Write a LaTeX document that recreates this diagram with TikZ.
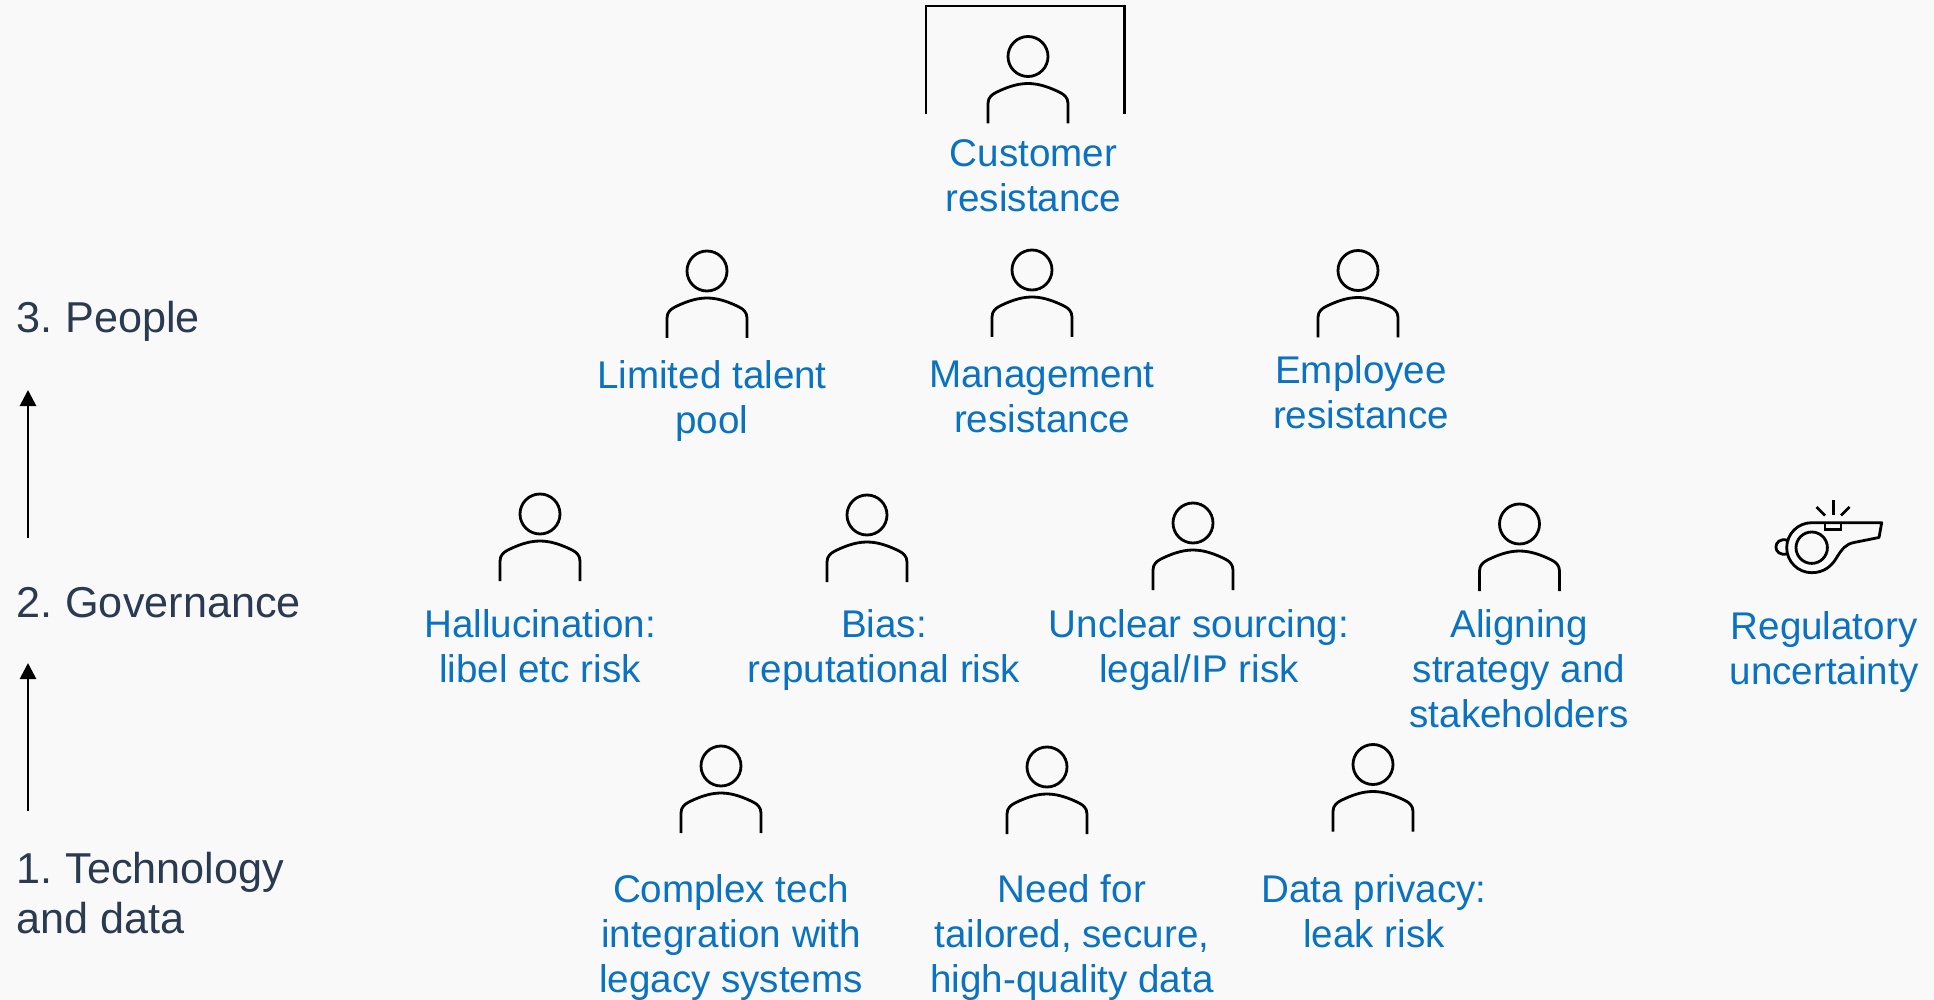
\documentclass[tikz,border=0pt]{standalone}
\usepackage{fontspec}
\setmainfont{Liberation Sans}
\usetikzlibrary{arrows.meta}
\definecolor{bg}{HTML}{F9F9F9}
\definecolor{lbl}{HTML}{0A72C0}
\definecolor{lvl}{HTML}{2A3A50}
\tikzset{
  x=0.5pt,y=-0.5pt,
  ln/.style={draw=black,line width=1.4pt,line cap=butt},
  risk/.style={text=lbl,align=center,inner sep=0pt,font=\fontsize{19.3}{22.5}\selectfont},
  level/.style={text=lvl,align=left,anchor=west,inner sep=0pt,font=\fontsize{21.6}{25.3}\selectfont},
  person/.pic={
    \draw[ln] (0,0) circle (20);
    \draw[ln] (-40,67) -- (-40,47) .. controls (-40,41) and (-36,38) .. (-32,36)
      .. controls (-22,31) and (-11,27) .. (0,27)
      .. controls (11,27) and (22,31) .. (32,36)
      .. controls (36,38) and (40,41) .. (40,47) -- (40,67);
  }
}
\begin{document}
\begin{tikzpicture}
\useasboundingbox[fill=bg] (0,0) rectangle (1934,1000);
% people icons
\foreach \px/\py in {1028/56.5,707/271,1032/270,1358/270.5,540/514,867/515,1193/523,1519.5/524,721/766,1047/767,1373/764.5}
  \pic at (\px,\py) {person};
% bracket
\draw[ln,line join=miter] (926,114) -- (926,6) -- (1124.5,6) -- (1124.5,114);
% whistle
\begin{scope}[shift={(1740,481)}]
  \draw[ln,line join=round] (141.7,41.7) -- (71.7,41.7)
    .. controls (57.9,41.7) and (46.7,52.9) .. (46.7,66.7)
    .. controls (46.7,80.5) and (57.9,91.7) .. (71.7,91.7)
    .. controls (84,91.7) and (92,85) .. (97,76)
    .. controls (102,68) and (106,63) .. (114,61.5)
    -- (139,56.5) -- cycle;
  \draw[ln] (71.7,66.7) circle (15.7);
  \draw[ln] (85,42) rectangle (101,48.3);
  \draw[ln] (47.7,59.3) .. controls (32,55) and (32,77) .. (47.7,72.7);
  \draw[ln] (93.3,19) -- (93.3,33.5);
  \draw[ln] (76.5,26) -- (85,34.5);
  \draw[ln] (109.5,26) -- (101,34.5);
\end{scope}
% arrows
\coordinate (a1s) at (28,811); \coordinate (a1e) at (28,663);
\coordinate (a2s) at (28,538); \coordinate (a2e) at (28,390);
\draw[ln,-{Triangle[length=8pt,width=8pt]}] (a1s) -- (a1e);
\draw[ln,-{Triangle[length=8pt,width=8pt]}] (a2s) -- (a2e);
% level labels
\node[level] (l3) at (16,321) {3. \kern-1.5pt People};
\node[level] (l2) at (16,603) {2. \kern-1.5pt Governance};
\node[level] (l1) at (16,893) {1. \kern-1.5pt Technology\\and data};
% risk labels
\node[risk] (customer) at (1033.5,176) {Customer\\resistance};
\node[risk] (talent) at (712,401) {Limited talent\\pool};
\node[risk] (mgmt) at (1042,397) {Management\\resistance};
\node[risk] (emp) at (1361,392) {Employee\\resistance};
\node[risk] (hall) at (540,646) {Hallucination:\\libel etc risk};
\node[risk] (bias) at (884,650) {Bias:\\reputational risk};
\node[risk] (src) at (1199,650) {Unclear sourcing:\\legal/IP risk};
\node[risk] (align) at (1519,669) {Aligning\\strategy and\\stakeholders};
\node[risk] (reg) at (1824,652) {Regulatory\\uncertainty};
\node[risk] (tech) at (731,938) {Complex tech\\integration with\\legacy systems};
\node[risk] (need) at (1072,938) {Need for\\tailored, secure,\\high-quality data};
\node[risk] (priv) at (1374,911.5) {Data privacy:\\leak risk};
\end{tikzpicture}
\end{document}
